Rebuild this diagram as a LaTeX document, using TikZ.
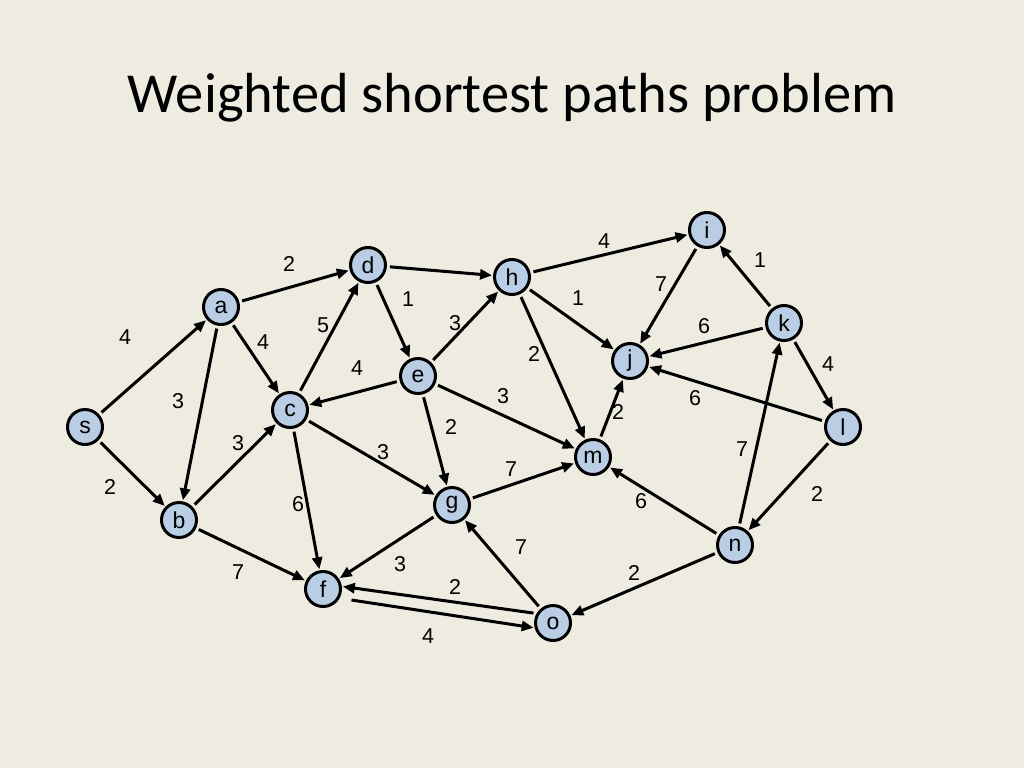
\documentclass[tikz,border=0pt]{standalone}
\usepackage{fontspec}
\setmainfont{Liberation Sans}
\newfontfamily\titlefont{Carlito}
\usetikzlibrary{arrows.meta}
\definecolor{bg}{HTML}{EEECE1}
\definecolor{nodefill}{HTML}{B9CDE5}
\begin{document}
\begin{tikzpicture}[x=1pt,y=-1pt,
  vtx/.style={circle,draw=black,line width=3pt,fill=nodefill,minimum size=35pt,inner sep=0pt,font=\fontsize{23}{26}\selectfont},
  wt/.style={font=\fontsize{21.5}{24}\selectfont,inner sep=0pt},
  arc/.style={line width=3pt,-{Triangle[length=12pt,width=10pt]},shorten <=3pt,shorten >=1pt}]
\fill[bg] (0,0) rectangle (1024,768);
\useasboundingbox (0,0) rectangle (1024,768);
\node[font=\titlefont\fontsize{56.5}{66}\selectfont,anchor=base] (title) at (512,112) {Weighted shortest paths problem};
% vertices
\node[vtx] (s) at (85,427) {s};
\node[vtx] (a) at (221,307) {a};
\node[vtx] (b) at (179,520) {b};
\node[vtx] (c) at (290,410) {c};
\node[vtx] (d) at (368,265) {d};
\node[vtx] (e) at (418,376) {e};
\node[vtx] (f) at (323,589) {f};
\node[vtx] (g) at (452,505) {g};
\node[vtx] (h) at (512,277) {h};
\node[vtx] (i) at (707,230) {i};
\node[vtx] (j) at (630,361) {j};
\node[vtx] (k) at (784,323) {k};
\node[vtx] (l) at (843,427) {l};
\node[vtx] (m) at (593,457) {m};
\node[vtx] (n) at (735,545) {n};
\node[vtx] (o) at (553,623) {o};
% arcs
\draw[arc] (s) -- (a);
\draw[arc] (s) -- (b);
\draw[arc] (a) -- (b);
\draw[arc] (a) -- (c);
\draw[arc] (a) -- (d);
\draw[arc] (b) -- (c);
\draw[arc] (b) -- (f);
\draw[arc] (c) -- (d);
\draw[arc] (c) -- (f);
\draw[arc] (c) -- (g);
\draw[arc] (d) -- (e);
\draw[arc] (d) -- (h);
\draw[arc] (e) -- (c);
\draw[arc] (e) -- (h);
\draw[arc] (e) -- (g);
\draw[arc] (e) -- (m);
\draw[arc] (h) -- (i);
\draw[arc] (h) -- (j);
\draw[arc] (h) -- (m);
\draw[arc] (i) -- (j);
\draw[arc] (k) -- (i);
\draw[arc] (k) -- (j);
\draw[arc] (k) -- (l);
\draw[arc] (l) -- (j);
\draw[arc] (l) -- (n);
\draw[arc] (m) -- (j);
\draw[arc] (n) -- (m);
\draw[arc] (n) -- (k);
\draw[arc] (n) -- (o);
\draw[arc] (g) -- (m);
\draw[arc] (g) -- (f);
\draw[arc] (o) -- (g);
\draw[arc] (o.150) -- (f.8);
\draw[arc,shorten <=12pt] (f.-29) -- (o.195);
% weights
\node[wt] (w1) at (125,337) {4};
\node[wt] (w2) at (110,487) {2};
\node[wt] (w3) at (178,401) {3};
\node[wt] (w4) at (263,342) {4};
\node[wt] (w5) at (289,264) {2};
\node[wt] (w6) at (238,443) {3};
\node[wt] (w7) at (238,572) {7};
\node[wt] (w8) at (323,325) {5};
\node[wt] (w9) at (298,504) {6};
\node[wt] (w10) at (383,452) {3};
\node[wt] (w11) at (408,299) {1};
\node[wt] (w12) at (357,368) {4};
\node[wt] (w13) at (455,323) {3};
\node[wt] (w14) at (451,427) {2};
\node[wt] (w15) at (503,396) {3};
\node[wt] (w16) at (604,241) {4};
\node[wt] (w17) at (578,298) {1};
\node[wt] (w18) at (534,354) {2};
\node[wt] (w19) at (661,284) {7};
\node[wt] (w20) at (760,260) {1};
\node[wt] (w21) at (704,326) {6};
\node[wt] (w22) at (828,364) {4};
\node[wt] (w23) at (695,398) {6};
\node[wt] (w24) at (817,494) {2};
\node[wt] (w25) at (618,412) {2};
\node[wt] (w26) at (641,501) {6};
\node[wt] (w27) at (742,449) {7};
\node[wt] (w28) at (634,573) {2};
\node[wt] (w29) at (511,469) {7};
\node[wt] (w30) at (400,564) {3};
\node[wt] (w31) at (521,547) {7};
\node[wt] (w32) at (455,587) {2};
\node[wt] (w33) at (428,636) {4};
\end{tikzpicture}
\end{document}
